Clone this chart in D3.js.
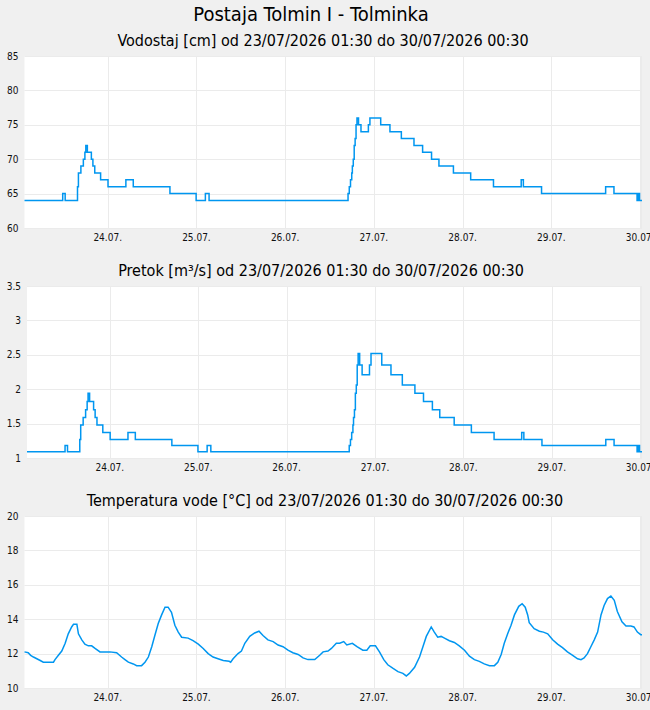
<!DOCTYPE html>
<html>
<head>
<meta charset="utf-8">
<script src="https://cdn.jsdelivr.net/npm/d3@7"></script>
<style>
  body { margin: 0; background: #f0f0f0; }
  text { font-family: "DejaVu Sans Condensed", "DejaVu Sans", sans-serif; font-stretch: condensed; }
</style>
</head>
<body>
<svg id="chart" width="650" height="710"></svg>
<script>
// station + period
const stationTitle = 'Postaja Tolmin I - Tolminka';
const periodStart = '23 01:30';
const periodEnd = '30 00:30';
const dayTicks = ['24 00:00', '25 00:00', '26 00:00', '27 00:00', '28 00:00', '29 00:00', '30 00:00'];

// level changes (step after), cm
const levelTimes = [
    '23 01:30', '23 11:50', '23 12:30', '23 15:50', '23 16:05', '23 16:45', '23 17:25', '23 17:50',
    '23 18:05', '23 18:30', '23 19:35', '23 20:00', '23 20:30', '23 22:05', '24 00:05', '24 04:55',
    '24 06:55', '24 16:50', '24 23:55', '25 02:25', '25 03:25', '26 17:00', '26 17:20', '26 17:40',
    '26 18:00', '26 18:10', '26 18:25', '26 18:40', '26 18:55', '26 19:10', '26 19:25', '26 19:50',
    '26 20:30', '26 22:30', '26 22:55', '27 01:50', '27 04:20', '27 07:25', '27 10:50', '27 13:10',
    '27 15:35', '27 17:35', '27 21:30', '28 02:10', '28 08:20', '28 15:50', '28 16:25', '28 21:20',
    '29 14:40', '29 16:55', '29 23:10', '29 23:30', '29 23:50', '30 00:30'
];
const levelValues = [
    64, 65, 64, 66, 68, 69, 70, 71,
    72, 71, 70, 69, 68, 67, 66, 67,
    66, 65, 64, 65, 64, 65, 66, 67,
    68, 69, 70, 72, 73, 75, 76, 75,
    74, 75, 76, 75, 74, 73, 72, 71,
    70, 69, 68, 67, 66, 67, 66, 65,
    66, 65, 64, 65, 64, 64
];
// discharge at the same times, m3/s
const flowValues = [
    1.09, 1.18, 1.09, 1.27, 1.48, 1.59, 1.70, 1.82,
    1.94, 1.82, 1.70, 1.59, 1.48, 1.37, 1.27, 1.37,
    1.27, 1.18, 1.09, 1.18, 1.09, 1.18, 1.27, 1.37,
    1.48, 1.59, 1.70, 1.94, 2.06, 2.35, 2.52, 2.35,
    2.21, 2.35, 2.52, 2.35, 2.21, 2.06, 1.94, 1.82,
    1.70, 1.59, 1.48, 1.37, 1.27, 1.37, 1.27, 1.18,
    1.27, 1.18, 1.09, 1.18, 1.09, 1.09
];

// water temperature, °C
const tempTimes = [
    '23 01:30', '23 02:30', '23 03:10', '23 03:55', '23 04:50', '23 05:45', '23 06:35', '23 09:20',
    '23 09:45', '23 10:40', '23 11:35', '23 12:30', '23 13:20', '23 14:15', '23 14:45', '23 15:40',
    '23 16:05', '23 17:00', '23 17:50', '23 18:45', '23 19:40', '23 20:35', '23 21:55', '24 00:35',
    '24 02:25', '24 03:45', '24 04:40', '24 05:35', '24 06:55', '24 07:50', '24 09:10', '24 10:05',
    '24 11:00', '24 11:55', '24 12:45', '24 13:40', '24 14:35', '24 15:30', '24 16:20', '24 17:15',
    '24 18:10', '24 19:05', '24 20:00', '24 21:45', '24 23:05', '25 00:30', '25 01:50', '25 03:10',
    '25 04:30', '25 05:50', '25 07:15', '25 08:50', '25 09:15', '25 09:55', '25 11:15', '25 12:10',
    '25 13:05', '25 14:25', '25 15:45', '25 16:55', '25 18:00', '25 19:20', '25 20:45', '25 22:05',
    '25 23:25', '26 00:45', '26 02:05', '26 03:30', '26 04:50', '26 06:10', '26 08:00', '26 09:20',
    '26 10:15', '26 11:35', '26 12:30', '26 13:50', '26 14:45', '26 15:50', '26 16:40', '26 18:10',
    '26 19:25', '26 21:00', '26 22:05', '26 23:00', '27 00:25', '27 01:30', '27 02:40', '27 03:45',
    '27 05:05', '27 06:30', '27 07:50', '27 08:45', '27 09:35', '27 11:00', '27 12:20', '27 13:15',
    '27 14:10', '27 15:30', '27 16:20', '27 17:15', '27 18:10', '27 19:05', '27 20:25', '27 21:45',
    '27 23:05', '28 00:30', '28 01:50', '28 03:10', '28 04:30', '28 05:50', '28 07:15', '28 08:35',
    '28 09:30', '28 10:25', '28 11:15', '28 12:10', '28 13:05', '28 14:00', '28 15:10', '28 16:05',
    '28 16:55', '28 17:35', '28 18:00', '28 19:20', '28 20:45', '28 21:50', '28 23:00', '29 00:20',
    '29 01:40', '29 03:00', '29 04:20', '29 05:45', '29 07:05', '29 08:00', '29 08:50', '29 09:45',
    '29 10:40', '29 11:35', '29 12:30', '29 13:25', '29 14:15', '29 15:10', '29 16:05', '29 17:00',
    '29 17:50', '29 19:05', '29 20:10', '29 21:30', '29 22:20', '29 23:15', '30 00:10', '30 00:30'
];
const tempValues = [
    12.1, 12.05, 11.9, 11.8, 11.7, 11.6, 11.5, 11.5,
    11.65, 11.9, 12.15, 12.6, 13.15, 13.55, 13.7, 13.7,
    13.15, 12.8, 12.55, 12.45, 12.45, 12.3, 12.1, 12.1,
    12.05, 11.8, 11.65, 11.5, 11.4, 11.3, 11.3, 11.5,
    11.8, 12.4, 13.05, 13.75, 14.25, 14.7, 14.7, 14.4,
    13.65, 13.25, 12.95, 12.9, 12.75, 12.55, 12.3, 12.0,
    11.8, 11.7, 11.6, 11.55, 11.5, 11.7, 12.0, 12.15,
    12.6, 13.0, 13.2, 13.3, 13.05, 12.8, 12.7, 12.5,
    12.4, 12.2, 12.05, 11.95, 11.75, 11.65, 11.65, 11.9,
    12.1, 12.15, 12.3, 12.6, 12.6, 12.7, 12.5, 12.6,
    12.4, 12.2, 12.2, 12.45, 12.45, 12.1, 11.65, 11.35,
    11.15, 10.95, 10.85, 10.7, 10.85, 11.2, 11.8, 12.4,
    13.0, 13.55, 13.25, 12.95, 13.0, 12.9, 12.75, 12.65,
    12.45, 12.2, 11.85, 11.65, 11.55, 11.4, 11.3, 11.3,
    11.5, 11.95, 12.6, 13.15, 13.65, 14.25, 14.75, 14.9,
    14.7, 14.25, 13.8, 13.45, 13.3, 13.25, 13.15, 12.8,
    12.55, 12.35, 12.1, 11.9, 11.7, 11.65, 11.75, 12.0,
    12.4, 12.8, 13.25, 14.25, 14.8, 15.2, 15.35, 15.1,
    14.45, 13.85, 13.6, 13.6, 13.55, 13.25, 13.1, 13.1
];

const levelTicks = [60, 65, 70, 75, 80, 85];
const flowTicks = [1, 1.5, 2, 2.5, 3, 3.5];
const tempTicks = [10, 12, 14, 16, 18, 20];

const parseTime = s => d3.timeParse('%Y-%m-%d %H:%M')('2026-07-' + s);
const fmtDay = d3.timeFormat('%d.%m.');

const svg = d3.select('#chart');
const plotRight = 642;
const plotHeight = 172;
const lineColor = '#0096f0';
const gridColor = '#ebebeb';

svg.append('text')
    .attr('x', 311)
    .attr('y', 21)
    .attr('text-anchor', 'middle')
    .attr('font-size', 20)
    .attr('fill', '#000')
    .text(stationTitle);

const subtitle = name => `${name} od 23/07/2026 01:30 do 30/07/2026 00:30`;

const panels = [
    { name: 'Vodostaj [cm]', top: 56, left: 24.5, cx: 323, ticks: levelTicks, times: levelTimes, values: levelValues, curve: d3.curveStepAfter },
    { name: 'Pretok [m³/s]', top: 286, left: 27, cx: 321, ticks: flowTicks, times: levelTimes, values: flowValues, curve: d3.curveStepAfter },
    { name: 'Temperatura vode [°C]', top: 516, left: 24.5, cx: 325, ticks: tempTicks, times: tempTimes, values: tempValues, curve: d3.curveLinear }
];

panels.forEach(p => {
    const g = svg.append('g');

    const x = d3.scaleTime()
        .domain([parseTime(periodStart), parseTime(periodEnd)])
        .range([p.left, plotRight]);
    const y = d3.scaleLinear()
        .domain(d3.extent(p.ticks))
        .range([p.top + plotHeight, p.top]);

    g.append('text')
        .attr('x', p.cx)
        .attr('y', p.top - 10)
        .attr('text-anchor', 'middle')
        .attr('font-size', 16)
        .attr('fill', '#000')
        .text(subtitle(p.name));

    g.append('rect')
        .attr('x', p.left)
        .attr('y', p.top)
        .attr('width', plotRight - p.left)
        .attr('height', plotHeight)
        .attr('fill', '#fff');

    const days = dayTicks.map(parseTime);

    // grid
    g.selectAll('.hgrid')
        .data(p.ticks)
        .enter()
        .append('line')
        .attr('x1', p.left)
        .attr('x2', plotRight)
        .attr('y1', d => Math.round(y(d)) + 0.5)
        .attr('y2', d => Math.round(y(d)) + 0.5)
        .attr('stroke', gridColor);

    g.selectAll('.vgrid')
        .data(days)
        .enter()
        .append('line')
        .attr('x1', d => Math.round(x(d)) + 0.5)
        .attr('x2', d => Math.round(x(d)) + 0.5)
        .attr('y1', p.top)
        .attr('y2', p.top + plotHeight)
        .attr('stroke', gridColor);

    g.append('line')
        .attr('x1', plotRight - 0.5)
        .attr('x2', plotRight - 0.5)
        .attr('y1', p.top)
        .attr('y2', p.top + plotHeight)
        .attr('stroke', gridColor);

    // axis labels
    g.selectAll('.ylab')
        .data(p.ticks)
        .enter()
        .append('text')
        .attr('x', p.left - 6)
        .attr('y', d => y(d))
        .attr('dy', '0.36em')
        .attr('text-anchor', 'end')
        .attr('font-size', 10)
        .attr('fill', '#111')
        .text(d => String(d));

    g.selectAll('.xlab')
        .data(days)
        .enter()
        .append('text')
        .attr('x', d => x(d))
        .attr('y', p.top + plotHeight + 13)
        .attr('text-anchor', 'middle')
        .attr('font-size', 10)
        .attr('fill', '#111')
        .text(d => fmtDay(d));

    const pts = p.times.map((t, i) => [parseTime(t), p.values[i]]);
    const line = d3.line()
        .x(d => x(d[0]))
        .y(d => y(d[1]))
        .curve(p.curve);

    g.append('path')
        .datum(pts)
        .attr('d', line)
        .attr('fill', 'none')
        .attr('stroke', lineColor)
        .attr('stroke-width', 1.5);
});
</script>
</body>
</html>
